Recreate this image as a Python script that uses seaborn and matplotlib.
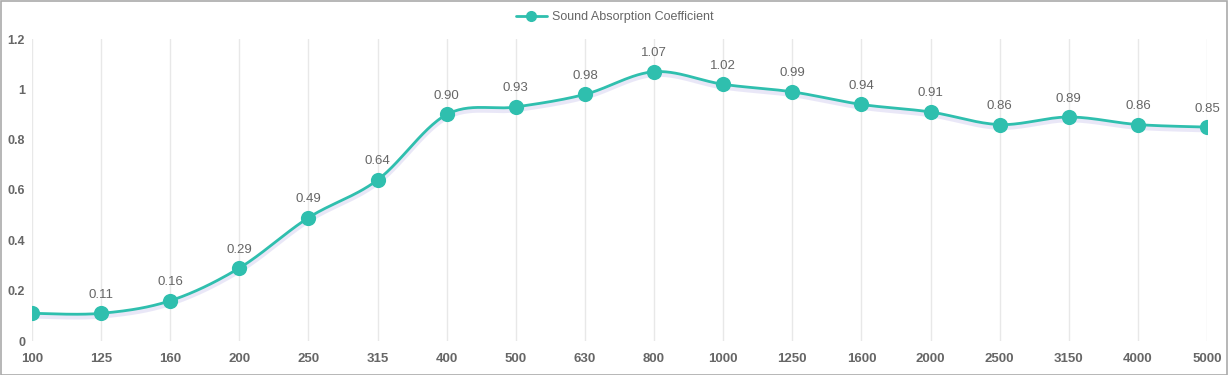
import numpy as np
import pandas as pd
import matplotlib
matplotlib.use("Agg")
import matplotlib.pyplot as plt
import seaborn as sns
from matplotlib.patches import Rectangle
from matplotlib.lines import Line2D

# =====================================================
# DATA
freqs = ['100', '125', '160', '200', '250', '315', '400', '500', '630',
         '800', '1000', '1250', '1600', '2000', '2500', '3150', '4000', '5000']
coef = [0.11, 0.11, 0.16, 0.29, 0.49, 0.64, 0.90, 0.93, 0.98,
        1.07, 1.02, 0.99, 0.94, 0.91, 0.86, 0.89, 0.86, 0.85]
y_ticks = [0, 0.2, 0.4, 0.6, 0.8, 1, 1.2]
y_tick_labels = ['0', '0.2', '0.4', '0.6', '0.8', '1', '1.2']

df = pd.DataFrame({'freq': freqs, 'coef': coef})
df['pos'] = np.arange(len(df))

teal = '#2fbfae'
grey = '#666666'

# =====================================================
# SMOOTH CURVE (catmull-rom through the points)
def smooth_curve(x, y, n=30):
    x = np.asarray(x, float)
    y = np.asarray(y, float)
    px = np.concatenate([[x[0]], x, [x[-1]]])
    py = np.concatenate([[y[0]], y, [y[-1]]])
    xs, ys = [], []
    t = np.linspace(0, 1, n)
    for i in range(1, len(px) - 2):
        x0, x1, x2, x3 = px[i - 1:i + 3]
        y0, y1, y2, y3 = py[i - 1:i + 3]
        t2, t3 = t * t, t * t * t
        fx = 0.5 * (2 * x1 + (-x0 + x2) * t + (2 * x0 - 5 * x1 + 4 * x2 - x3) * t2 + (-x0 + 3 * x1 - 3 * x2 + x3) * t3)
        fy = 0.5 * (2 * y1 + (-y0 + y2) * t + (2 * y0 - 5 * y1 + 4 * y2 - y3) * t2 + (-y0 + 3 * y1 - 3 * y2 + y3) * t3)
        xs.append(fx)
        ys.append(fy)
    return np.concatenate(xs), np.concatenate(ys)

sx, sy = smooth_curve(df['pos'], df['coef'])
curve = pd.DataFrame({'x': sx, 'y': sy})

# =====================================================
# PLOT
sns.set_style('white')
plt.rcParams['font.family'] = ['Liberation Sans', 'DejaVu Sans']

fig = plt.figure(figsize=(12.29, 3.75), dpi=100)
ax = fig.add_axes([32 / 1229, 1 - 341 / 375, (1207 - 32) / 1229, (341 - 39) / 375])

# shadow under the line
ax.plot(curve['x'], curve['y'] - 0.01, color='#8a7fd8', alpha=0.18, lw=4, zorder=2,
        solid_capstyle='round')
sns.lineplot(data=curve, x='x', y='y', color=teal, lw=2, ax=ax, zorder=3, sort=False)
sns.scatterplot(data=df, x='pos', y='coef', color=teal, s=120, edgecolor=teal,
                linewidth=0, ax=ax, zorder=4)

for i, row in df.iterrows():
    if i == 0:
        continue
    ax.annotate(f"{row['coef']:.2f}", (row['pos'], row['coef']), xytext=(0, 9),
                textcoords='offset points', ha='center', va='bottom',
                fontsize=9.5, color=grey)

ax.set_xlim(0, len(df) - 1)
ax.set_ylim(0, 1.2)
ax.set_xticks(df['pos'])
ax.set_xticklabels(freqs, fontsize=9.5, fontweight='bold', color=grey)
ax.set_yticks(y_ticks)
ax.set_yticklabels(y_tick_labels, fontsize=9, fontweight='bold', color=grey)
ax.tick_params(axis='x', length=0, pad=9)
ax.tick_params(axis='y', length=0, pad=5)
ax.xaxis.grid(True, color='#e8e8e8', lw=1)
ax.yaxis.grid(False)
for s in ax.spines.values():
    s.set_visible(False)
ax.set_xlabel('')
ax.set_ylabel('')

# legend
handle = Line2D([0], [0], color=teal, lw=2, marker='o', markersize=7)
fig.legend([handle], ['Sound Absorption Coefficient'], loc='center',
           bbox_to_anchor=(0.5, 1 - 17 / 375), frameon=False, fontsize=9,
           labelcolor=grey, handlelength=2.5, handletextpad=0.4)

# outer border
fig.patches.append(Rectangle((0.0005, 0.001), 0.998, 0.997, transform=fig.transFigure,
                             fill=False, edgecolor='#aaaaaa', lw=1.2))

fig.savefig('out.png', dpi=100)
